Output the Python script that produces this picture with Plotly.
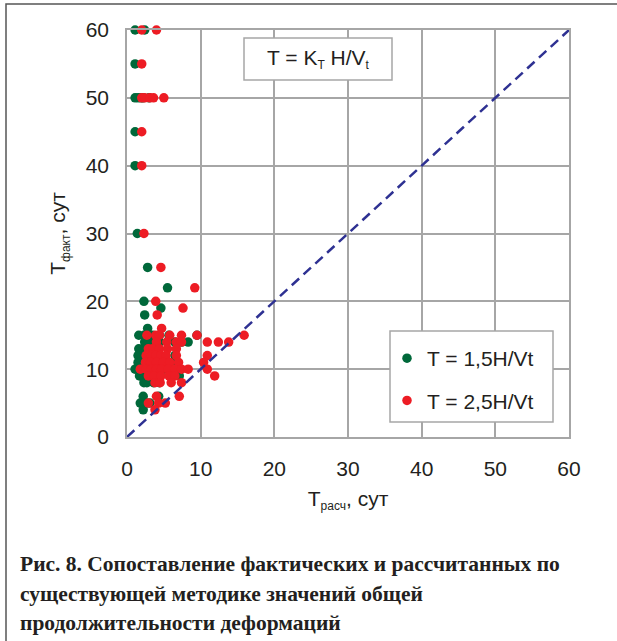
import plotly.graph_objects as go

# T = 1,5H/Vt  (green)
green_x = [1.1, 2.4, 1.1, 1.1, 1.5, 1.9, 2.2, 3.0, 1.1, 1.1, 1.4, 2.8, 5.5, 2.3, 4.6, 2.4, 2.8,
           1.6, 2.3, 2.7, 3.5, 4.4, 5.7, 9.5,
           2.4, 3.2, 4.0, 4.4, 6.5, 7.4, 8.3,
           1.6, 2.2, 2.7, 3.3, 4.0,
           1.5, 2.0, 2.4, 2.8, 3.2, 4.0, 6.5,
           1.5, 1.9, 2.4, 2.9, 3.5, 4.2, 6.2,
           1.1, 1.6, 2.0, 2.4, 2.8, 3.4, 3.9, 4.4, 5.0, 6.5,
           1.7, 2.2, 2.8, 3.4, 3.9, 7.1,
           2.3, 2.7, 3.6, 4.4,
           2.2, 4.3,
           1.8, 2.6, 3.1,
           2.2]
green_y = [60, 60, 55, 50, 50, 50, 50, 50, 45, 40, 30, 25, 22, 20, 19, 18, 16,
           15, 15, 15, 15, 15, 15, 15,
           14, 14, 14, 14, 14, 14, 14,
           13, 13, 13, 13, 13,
           12, 12, 12, 12, 12, 12, 12,
           11, 11, 11, 11, 11, 11, 11,
           10, 10, 10, 10, 10, 10, 10, 10, 10, 10,
           9, 9, 9, 9, 9, 9,
           8, 8, 8, 8,
           6, 6,
           5, 5, 5,
           4]

# T = 2,5H/Vt  (red)
red_x = [2.0, 4.0, 2.0, 2.0, 2.4, 3.1, 3.6, 5.0, 2.0, 2.0, 2.3, 4.6, 9.2, 3.9, 7.6, 4.1, 4.7,
         2.7, 3.9, 4.4, 5.8, 7.4, 9.5, 15.9,
         4.0, 5.4, 6.7, 7.4, 10.9, 12.4, 13.8,
         2.9, 3.5, 4.4, 5.5, 6.7,
         2.6, 3.3, 3.9, 4.6, 5.3, 6.7, 10.9,
         2.5, 3.2, 4.0, 4.9, 5.8, 7.0, 10.4,
         1.8, 2.6, 3.3, 4.0, 4.7, 5.6, 6.5, 7.4, 8.3, 10.9,
         2.9, 3.7, 4.6, 5.7, 6.5, 11.9,
         3.8, 4.5, 6.0, 7.4,
         4.0, 7.1,
         2.9, 4.3, 5.2,
         3.8]
red_y = [60, 60, 55, 50, 50, 50, 50, 50, 45, 40, 30, 25, 22, 20, 19, 18, 16,
         15, 15, 15, 15, 15, 15, 15,
         14, 14, 14, 14, 14, 14, 14,
         13, 13, 13, 13, 13,
         12, 12, 12, 12, 12, 12, 12,
         11, 11, 11, 11, 11, 11, 11,
         10, 10, 10, 10, 10, 10, 10, 10, 10, 10,
         9, 9, 9, 9, 9, 9,
         8, 8, 8, 8,
         6, 6,
         5, 5, 5,
         4]

diag_x = [0, 60]
diag_y = [0, 60]

tick_vals = [0, 10, 20, 30, 40, 50, 60]

caption_lines = [
    "Рис. 8. Сопоставление фактических и рассчитанных по",
    "существующей методике значений общей",
    "продолжительности деформаций",
]

W, H = 617, 641
L, R, T, B = 127, 48, 30, 204
pw, ph = W - L - R, H - T - B


def px(xp):
    return (xp - L) / pw


def py(yp):
    return (H - B - yp) / ph


TXT = "#231f20"
GRID = "#a6a6a6"
FONT = "Liberation Sans, Arial, sans-serif"


def sub(s):
    return "<sub><span style='font-size:12px'>" + s + "</span></sub>"


fig = go.Figure()
fig.add_trace(go.Scatter(x=green_x, y=green_y, mode="markers", name="T = 1,5H/Vt",
                         legendgroup="g1",
                         marker=dict(color="#00683a", size=9.5), cliponaxis=False))
fig.add_trace(go.Scatter(x=red_x, y=red_y, mode="markers", name="T = 2,5H/Vt",
                         legendgroup="g2",
                         marker=dict(color="#ed1c24", size=9.5), cliponaxis=False))
fig.add_trace(go.Scatter(x=diag_x, y=diag_y, mode="lines", showlegend=False,
                         line=dict(color="#2e3192", width=2.5, dash="10px,6px"),
                         hoverinfo="skip"))

axis_common = dict(range=[0, 60], tickvals=tick_vals, showgrid=True, gridcolor=GRID,
                   gridwidth=1.5, showline=True, linecolor=GRID, linewidth=1.5,
                   mirror=True, zeroline=False, ticks="",
                   tickfont=dict(family=FONT, size=21, color=TXT))

fig.update_xaxes(**axis_common, ticklabelstandoff=12,
                 title=dict(text="T" + sub("расч") + ", сут", standoff=12,
                            font=dict(family=FONT, size=21, color=TXT)))
fig.update_yaxes(**axis_common, ticklabelstandoff=12,
                 title=dict(text="T" + sub("факт") + ", сут", standoff=14,
                            font=dict(family=FONT, size=21, color=TXT)))

shapes = [
    # outer frame
    dict(type="rect", xref="paper", yref="paper", x0=px(6), x1=px(619), y0=py(650), y1=py(4),
         line=dict(color="#555555", width=1.5), fillcolor="rgba(0,0,0,0)", layer="below"),
    # formula box
    dict(type="rect", xref="paper", yref="paper", x0=px(244), x1=px(392), y0=py(80), y1=py(38),
         line=dict(color=GRID, width=1.5), fillcolor="white", layer="above"),
    # legend box
    dict(type="rect", xref="paper", yref="paper", x0=px(390), x1=px(553), y0=py(422), y1=py(331),
         line=dict(color=GRID, width=1.5), fillcolor="white", layer="above"),
]

annotations = [
    dict(text="T = K" + sub("T") + " H/V" + sub("t"), xref="paper", yref="paper",
         x=px(318), y=py(59), xanchor="center", yanchor="middle", showarrow=False,
         font=dict(family=FONT, size=21, color=TXT)),
]
for i, line in enumerate(caption_lines):
    annotations.append(dict(text="<b>" + line + "</b>", xref="paper", yref="paper",
                            x=px(18), y=py(564 + 29.5 * i), xanchor="left", yanchor="middle",
                            showarrow=False,
                            font=dict(family="Liberation Serif, Times New Roman, serif",
                                      size=21.5, color=TXT)))

fig.update_layout(
    width=W, height=H,
    margin=dict(l=L, r=R, t=T, b=B),
    paper_bgcolor="white", plot_bgcolor="white",
    shapes=shapes, annotations=annotations,
    showlegend=True,
    legend=dict(x=px(387), y=py(338), xanchor="left", yanchor="top",
                bgcolor="rgba(0,0,0,0)", borderwidth=0, tracegroupgap=12,
                font=dict(family=FONT, size=21, color=TXT)),
)

fig.write_html("out.html")
